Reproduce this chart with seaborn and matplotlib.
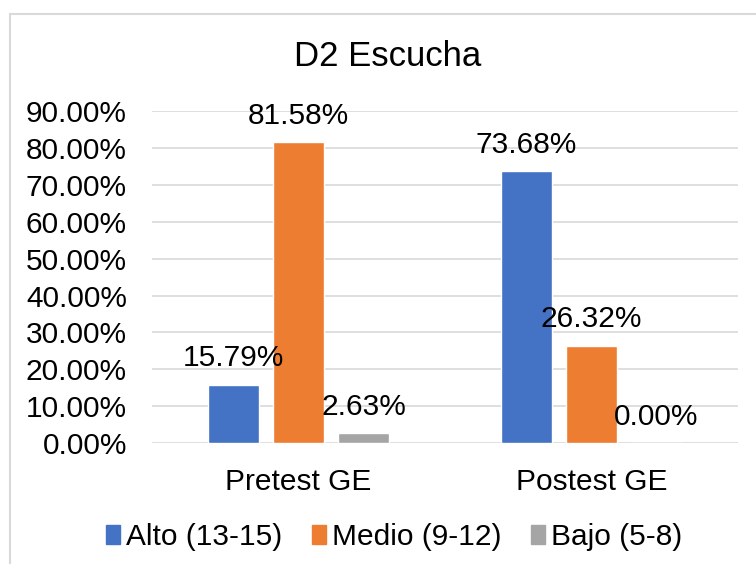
import pandas as pd
import seaborn as sns
import matplotlib.pyplot as plt
from matplotlib.patches import Rectangle

grupos = ["Pretest GE", "Postest GE"]
niveles = ["Alto (13-15)", "Medio (9-12)", "Bajo (5-8)"]
alto = [0.1579, 0.7368]
medio = [0.8158, 0.2632]
bajo = [0.0263, 0.0]
colores = ["#4472C4", "#ED7D31", "#A5A5A5"]
yticks = [0.0, 0.1, 0.2, 0.3, 0.4, 0.5, 0.6, 0.7, 0.8, 0.9]

rows = []
for nivel, vals in zip(niveles, [alto, medio, bajo]):
    for g, v in zip(grupos, vals):
        rows.append({"grupo": g, "nivel": nivel, "valor": v})
df = pd.DataFrame(rows)

sns.set_theme(style="white")
plt.rcParams["font.family"] = ["Liberation Sans", "DejaVu Sans"]
plt.rcParams["text.color"] = "black"
plt.rcParams["xtick.color"] = "black"
plt.rcParams["ytick.color"] = "black"

fs = 21.5

fig = plt.figure(figsize=(7.56, 5.64), dpi=100)
ax = fig.add_axes([0.201, 0.2145, 0.775, 0.5885])

sns.barplot(
    data=df, x="grupo", y="valor", hue="nivel",
    order=grupos, hue_order=niveles, palette=colores, saturation=1,
    width=0.666, gap=0.215, errorbar=None, ax=ax, legend=False,
)

ax.set_ylim(0, 0.9)
ax.set_xlim(-0.5, 1.5)
ax.set_yticks(yticks)
ax.set_yticklabels([f"{t*100:.2f}%" for t in yticks])
ax.yaxis.grid(True, color="#D9D9D9", linewidth=1.2)
ax.set_axisbelow(True)
for s in ax.spines.values():
    s.set_visible(False)
ax.tick_params(axis="y", length=0, pad=18, labelsize=fs)
ax.tick_params(axis="x", length=0, pad=18, labelsize=fs)
ax.set_xlabel("")
ax.set_ylabel("")

for cont in ax.containers:
    ax.bar_label(cont, labels=[f"{b.get_height()*100:.2f}%" for b in cont],
                 padding=9, fontsize=fs, color="black")

fig.text(0.513, 0.9, "D2 Escucha", ha="center", va="center", fontsize=25)

handles = [Rectangle((0, 0), 1, 1, color=c) for c in colores]
fig.legend(handles, niveles, loc="center", bbox_to_anchor=(0.521, 0.048),
           ncol=3, frameon=False, fontsize=fs, handlelength=0.47,
           handleheight=0.6, handletextpad=0.2, columnspacing=1.0)

fig.patches.append(Rectangle((10 / 756, -0.1), 1.2, (564 - 14) / 564 + 0.1,
                             transform=fig.transFigure, fill=False,
                             edgecolor="#D9D9D9", linewidth=1.5))

fig.savefig("out.png", dpi=100, facecolor="white")
